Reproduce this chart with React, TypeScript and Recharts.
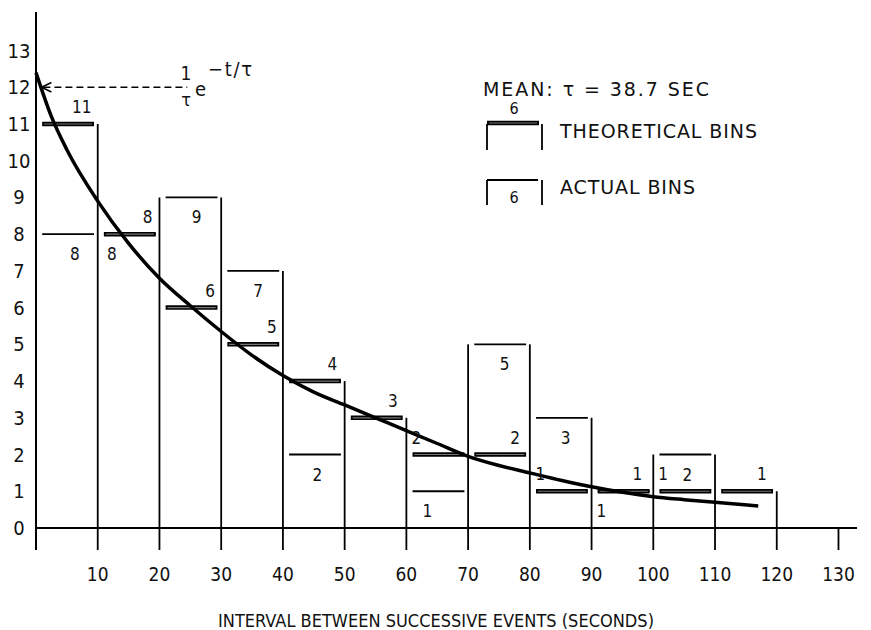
import React from "react";
import {
  ComposedChart,
  Line,
  Scatter,
  XAxis,
  YAxis,
  ReferenceLine,
} from "recharts";

// bins are 10 s wide
const binStarts = [0, 10, 20, 30, 40, 50, 60, 70, 80, 90, 100, 110];
const actualCounts = [8, 8, 9, 7, 2, 0, 1, 5, 3, 1, 2, 0];
const theoreticalCounts = [11, 8, 6, 5, 4, 3, 2, 2, 1, 1, 1, 1];

// fitted curve
const curveT = [0, 2.5, 5, 10, 15, 20, 25, 30, 35, 40, 45, 50, 55, 60, 65, 70, 75, 80, 85, 90, 95, 100, 105, 110, 117];
const curveN = [12.4, 11.2, 10.3, 8.9, 7.75, 6.8, 6.05, 5.35, 4.7, 4.15, 3.7, 3.35, 3.0, 2.65, 2.3, 1.95, 1.7, 1.5, 1.3, 1.12, 0.97, 0.85, 0.77, 0.7, 0.6];

const xTicks = [10, 20, 30, 40, 50, 60, 70, 80, 90, 100, 110, 120, 130];
const yTicks = [0, 1, 2, 3, 4, 5, 6, 7, 8, 9, 10, 11, 12, 13];

const BIN = 10;
const Y_MIN = -0.6;
const Y_MAX = 14.05;
const FONT = "'DejaVu Sans Condensed', 'DejaVu Sans', sans-serif";
const WIDE = "'DejaVu Sans', sans-serif";

// where the little count labels sit inside each bin
const theoLabelDx = [7.4, 8.1, 8.2, 8.2, 8, 7.8, 1.6, 7.6, 1.7, 7.4, 1.6, 7.6];
const actualLabelDx = [6.3, 2.3, 6, 6, 5.6, 5, 3.4, 5.9, 5.8, 1.6, 5.5, 5];

const curveData = curveT.map((t, i) => ({ t, n: curveN[i] }));

const edges = [...binStarts, 120, 130];
const edgeHeights = edges.map((x) => {
  const i = binStarts.indexOf(x);
  const vals: number[] = [0];
  if (i > 0) vals.push(actualCounts[i - 1], theoreticalCounts[i - 1]);
  if (i >= 0) vals.push(actualCounts[i], theoreticalCounts[i]);
  if (x === 120) vals.push(actualCounts[11], theoreticalCounts[11]);
  return Math.max(...vals);
});

const theoLabels = binStarts.map((s, i) => ({
  t: s + theoLabelDx[i],
  y: theoreticalCounts[i],
  label: String(theoreticalCounts[i]),
}));
const actualLabels = binStarts
  .map((s, i) => ({ t: s + actualLabelDx[i], y: actualCounts[i], label: String(actualCounts[i]) }))
  .filter((d) => d.y > 0);

const labelShape = (dy: number) => (p: any) => (
  <text
    x={p.cx}
    y={p.cy + dy}
    textAnchor="middle"
    dominantBaseline="central"
    fontFamily={FONT}
    fontSize={17}
    fill="#111"
  >
    {p.payload.label}
  </text>
);

export default function App() {
  return (
    <div style={{ position: "absolute", left: 0, top: 0, width: 871, height: 630, background: "#fff" }}>
      <ComposedChart
        width={871}
        height={630}
        margin={{ top: 12, right: 14, bottom: 0, left: 0 }}
      >
        <XAxis
          type="number"
          dataKey="t"
          domain={[0, 133]}
          ticks={xTicks}
          axisLine={false}
          tickLine={false}
          tickSize={0}
          height={80}
          tick={({ x, y, payload }: any) => (
            <text x={x} y={y + 22} textAnchor="middle" dominantBaseline="central" fontFamily={FONT} fontSize={19} fill="#111">
              {payload.value}
            </text>
          )}
        />
        <YAxis
          type="number"
          domain={[Y_MIN, Y_MAX]}
          allowDataOverflow
          ticks={yTicks}
          width={36}
          axisLine={{ stroke: "#000", strokeWidth: 2 }}
          tickLine={false}
          tick={({ y, payload }: any) => (
            <text x={19} y={y} textAnchor="middle" dominantBaseline="central" fontFamily={FONT} fontSize={20} fill="#111">
              {payload.value}
            </text>
          )}
        />

        <ReferenceLine y={0} stroke="#000" strokeWidth={2} />

        {edges.map((x, i) =>
          x === 0 ? null : (
            <ReferenceLine
              key={"e" + x}
              segment={[{ x, y: Y_MIN }, { x, y: edgeHeights[i] }]}
              stroke="#000"
              strokeWidth={1.8}
            />
          )
        )}

        {binStarts.map((s, i) =>
          actualCounts[i] > 0 ? (
            <ReferenceLine
              key={"a" + s}
              segment={[{ x: s + 1, y: actualCounts[i] }, { x: s + 9.4, y: actualCounts[i] }]}
              stroke="#000"
              strokeWidth={1.8}
            />
          ) : null
        )}

        {binStarts.map((s, i) => (
          <ReferenceLine
            key={"t" + s}
            segment={[{ x: s + 1, y: theoreticalCounts[i] }, { x: s + BIN - 0.6, y: theoreticalCounts[i] }]}
            stroke="#000"
            strokeWidth={4.5}
          />
        ))}
        {binStarts.map((s, i) => (
          <ReferenceLine
            key={"tg" + s}
            segment={[{ x: s + 1.3, y: theoreticalCounts[i] }, { x: s + BIN - 0.9, y: theoreticalCounts[i] }]}
            stroke="#777"
            strokeWidth={1.2}
          />
        ))}

        {/* dashed pointer from the formula to the intercept */}
        <ReferenceLine
          segment={[{ x: 1.2, y: 12 }, { x: 24.5, y: 12 }]}
          stroke="#000"
          strokeWidth={1.6}
          strokeDasharray="7 4"
        />
        <ReferenceLine segment={[{ x: 0.9, y: 12 }, { x: 2.5, y: 12.13 }]} stroke="#000" strokeWidth={1.6} />
        <ReferenceLine segment={[{ x: 0.9, y: 12 }, { x: 2.5, y: 11.87 }]} stroke="#000" strokeWidth={1.6} />

        <Line
          data={curveData}
          dataKey="n"
          type="monotone"
          dot={false}
          stroke="#000"
          strokeWidth={3.5}
          isAnimationActive={false}
        />

        <Scatter data={theoLabels} dataKey="y" shape={labelShape(-17)} isAnimationActive={false} />
        <Scatter data={actualLabels} dataKey="y" shape={labelShape(20)} isAnimationActive={false} />
      </ComposedChart>

      <svg
        width={871}
        height={630}
        style={{ position: "absolute", left: 0, top: 0, pointerEvents: "none" }}
        fontFamily={FONT}
        fill="#111"
      >
        {/* formula label */}
        <text x={186} y={73} textAnchor="middle" fontSize={19} dominantBaseline="central">1</text>
        <text x={186} y={99} textAnchor="middle" fontSize={18} dominantBaseline="central">τ</text>
        <text x={195} y={89} fontSize={20} dominantBaseline="central">e</text>
        <text x={208} y={69} fontSize={20} dominantBaseline="central" textLength={44} lengthAdjust="spacing">−t/τ</text>

        <text x={483} y={89} fontFamily={WIDE} fontSize={19} dominantBaseline="central" textLength={226} lengthAdjust="spacing">
          MEAN: τ = 38.7 SEC
        </text>

        {/* legend: theoretical */}
        <text x={514} y={108} textAnchor="middle" fontSize={16} dominantBaseline="central">6</text>
        <line x1={487} y1={124} x2={487} y2={150} stroke="#000" strokeWidth={1.8} />
        <line x1={542} y1={124} x2={542} y2={150} stroke="#000" strokeWidth={1.8} />
        <line x1={487} y1={123} x2={539} y2={123} stroke="#000" strokeWidth={4.5} />
        <line x1={489} y1={123} x2={537} y2={123} stroke="#777" strokeWidth={1.2} />
        <text x={560} y={131} fontFamily={WIDE} fontSize={19} dominantBaseline="central" textLength={197} lengthAdjust="spacing">
          THEORETICAL BINS
        </text>

        {/* legend: actual */}
        <line x1={487} y1={180} x2={487} y2={205} stroke="#000" strokeWidth={1.8} />
        <line x1={542} y1={180} x2={542} y2={205} stroke="#000" strokeWidth={1.8} />
        <line x1={487} y1={180} x2={538} y2={180} stroke="#000" strokeWidth={1.8} />
        <text x={514} y={197} textAnchor="middle" fontSize={16} dominantBaseline="central">6</text>
        <text x={560} y={187} fontFamily={WIDE} fontSize={19} dominantBaseline="central" textLength={135} lengthAdjust="spacing">
          ACTUAL BINS
        </text>

        <text x={218} y={620} fontSize={18} dominantBaseline="central" textLength={436} lengthAdjust="spacing">
          INTERVAL BETWEEN SUCCESSIVE EVENTS (SECONDS)
        </text>
      </svg>
    </div>
  );
}
